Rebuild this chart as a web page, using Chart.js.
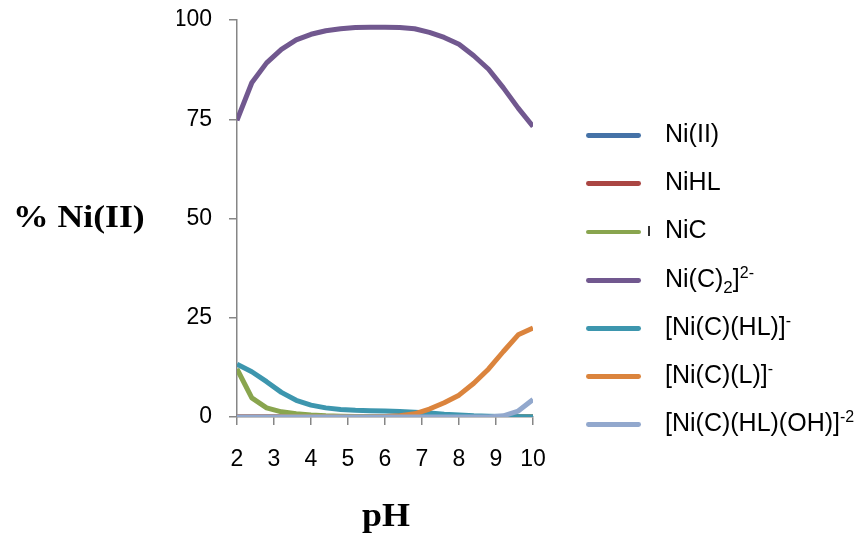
<!DOCTYPE html>
<html>
<head>
<meta charset="utf-8">
<script src="https://cdn.jsdelivr.net/npm/chart.js@4/dist/chart.umd.min.js"></script>
<style>
  html, body { margin: 0; padding: 0; background: #fff; }
  #wrap { position: relative; width: 867px; height: 538px; overflow: hidden; }
  #chart-ni { position: absolute; left: 0; top: 0; }
  .axis-title {
    position: absolute;
    font-family: "Liberation Serif", "Times New Roman", serif;
    font-weight: bold;
    line-height: 1;
    white-space: nowrap;
    transform-origin: left top;
    color: #000;
  }
  #title-y { left: 13px; top: 201px; font-size: 31px; transform: scaleX(1.15); }
  #title-x { left: 362px; top: 499px; font-size: 33px; transform: scaleX(1.09); }
  #legend-ni { position: absolute; left: 0; top: 0; margin: 0; padding: 0; list-style: none; }
  #legend-ni li { position: absolute; left: 586px; height: 25px; width: 280px; }
  #legend-ni .swatch {
    position: absolute; left: 0; top: 12.2px;
    width: 55px; height: 4.8px; border-radius: 2.4px;
  }
  #legend-ni .name {
    position: absolute; left: 79px; top: 0;
    font-family: "Liberation Sans", Arial, sans-serif;
    font-size: 25px; line-height: 25px; color: #000; white-space: nowrap;
  }
  #legend-ni sup { font-size: 16px; vertical-align: 9px; line-height: 0; }
  #legend-ni sub { font-size: 17px; vertical-align: -6px; line-height: 0; }
  #stray { position: absolute; left: 648px; top: 226px; width: 1.5px; height: 10px; background: #333; }
</style>
</head>
<body>
<div id="wrap">
  <canvas id="chart-ni" width="867" height="538"></canvas>
  <div class="axis-title" id="title-y">% Ni(II)</div>
  <div class="axis-title" id="title-x">pH</div>
  <ul id="legend-ni"></ul>
  <div id="stray"></div>
</div>
<script>
  /* ===================== DATA ===================== */

  const phValues = [2, 2.4, 2.8, 3.2, 3.6, 4, 4.4, 4.8, 5.2, 5.6, 6, 6.4, 6.8, 7.2, 7.6, 8, 8.4, 8.8, 9.2, 9.6, 10];

  const niII     = [0, 0, 0, 0, 0, 0, 0, 0, 0, 0, 0, 0, 0, 0, 0, 0, 0, 0, 0, 0, 0];
  const niHL     = [0, 0, 0, 0, 0, 0, 0, 0, 0, 0, 0, 0, 0, 0, 0, 0, 0, 0, 0, 0, 0];
  const niC      = [12.1, 4.8, 2.3, 1.3, 0.8, 0.5, 0.3, 0.2, 0.1, 0.1, 0.1, 0.1, 0, 0, 0, 0, 0, 0, 0, 0, 0];
  const niC2     = [74.7, 84.2, 89.2, 92.6, 95.0, 96.4, 97.3, 97.8, 98.1, 98.2, 98.2, 98.1, 97.8, 96.9, 95.6, 93.9, 91.0, 87.6, 82.9, 77.8, 73.2];
  const niCHL    = [13.3, 11.4, 8.9, 6.2, 4.2, 3.0, 2.3, 1.9, 1.7, 1.6, 1.5, 1.4, 1.2, 1.0, 0.7, 0.5, 0.3, 0.2, 0.1, 0.05, 0];
  const niCL     = [0, 0, 0, 0, 0, 0, 0, 0, 0, 0, 0.1, 0.3, 0.8, 2.0, 3.6, 5.5, 8.5, 12.1, 16.5, 20.7, 22.4];
  const niCHLOH  = [0, 0, 0, 0, 0, 0, 0, 0, 0, 0, 0, 0, 0, 0, 0, 0, 0, 0, 0.3, 1.5, 4.4];

  const xTicks = [2, 3, 4, 5, 6, 7, 8, 9, 10];
  const yTicks = [0, 25, 50, 75, 100];

  const seriesNames = [
    'Ni(II)',
    'NiHL',
    'NiC',
    'Ni(C)<sub>2</sub>]<sup>2-</sup>',
    '[Ni(C)(HL)]<sup>-</sup>',
    '[Ni(C)(L)]<sup>-</sup>',
    '[Ni(C)(HL)(OH)]<sup>-2</sup>'
  ];
  const seriesValues = [niII, niHL, niC, niC2, niCHL, niCL, niCHLOH];
  const seriesColors = ['#4572A7', '#AA4643', '#89A54E', '#71588F', '#3D96AE', '#DB843D', '#92A8CD'];

  /* ===================== CHART ===================== */

  const axisColor = '#868686';
  const tickFont = { family: '"Liberation Sans", Arial, sans-serif', size: 23 };

  let datasets = seriesValues.map((values, i) => ({
    label: seriesNames[i].replace(/<[^>]+>/g, ''),
    data: phValues.map((ph, j) => ({ x: ph, y: values[j] })),
    borderColor: seriesColors[i],
    backgroundColor: seriesColors[i],
    borderWidth: 5,
    borderJoinStyle: 'round',
    pointRadius: 0,
    tension: 0,
    fill: false,
    // later series sit on top
    order: seriesValues.length - i
  }));

  let chartNi = new Chart(document.getElementById('chart-ni'), {
    type: 'line',
    data: { datasets },
    options: {
      responsive: false,
      animation: false,
      events: [],
      layout: { padding: { left: 177, top: 20, right: 334, bottom: 0 } },
      plugins: {
        legend: { display: false },
        tooltip: { enabled: false }
      },
      scales: {
        x: {
          type: 'linear',
          min: xTicks[0],
          max: xTicks[xTicks.length - 1],
          afterBuildTicks: scale => { scale.ticks = xTicks.map(v => ({ value: v })); },
          afterFit: scale => {
            scale.height = 121;
            scale.paddingLeft = 0;
            scale.paddingRight = 0;
          },
          ticks: { color: '#000', font: tickFont, padding: 21, maxRotation: 0 },
          grid: { drawOnChartArea: false, tickLength: 8, color: axisColor, lineWidth: 1.5 },
          border: { color: axisColor, width: 1.5 }
        },
        y: {
          min: yTicks[0],
          max: yTicks[yTicks.length - 1],
          afterBuildTicks: scale => { scale.ticks = yTicks.map(v => ({ value: v })); },
          afterFit: scale => {
            scale.width = 60;
            scale.paddingTop = 0;
            scale.paddingBottom = 0;
          },
          ticks: { color: '#000', font: tickFont, padding: 17 },
          grid: { drawOnChartArea: false, tickLength: 8, color: axisColor, lineWidth: 1.5 },
          border: { color: axisColor, width: 1.5 }
        }
      }
    }
  });

  /* ===================== LEGEND ===================== */

  let legendBox = document.getElementById('legend-ni');

  seriesNames.forEach((name, i) => {
    let item = document.createElement('li');
    item.style.top = (135.5 + i * 48.2 - 14.5) + 'px';
    item.innerHTML = `<span class="swatch" style="background:${seriesColors[i]}"></span>` +
      `<span class="name">${name}</span>`;
    legendBox.appendChild(item);
  });
</script>
</body>
</html>
